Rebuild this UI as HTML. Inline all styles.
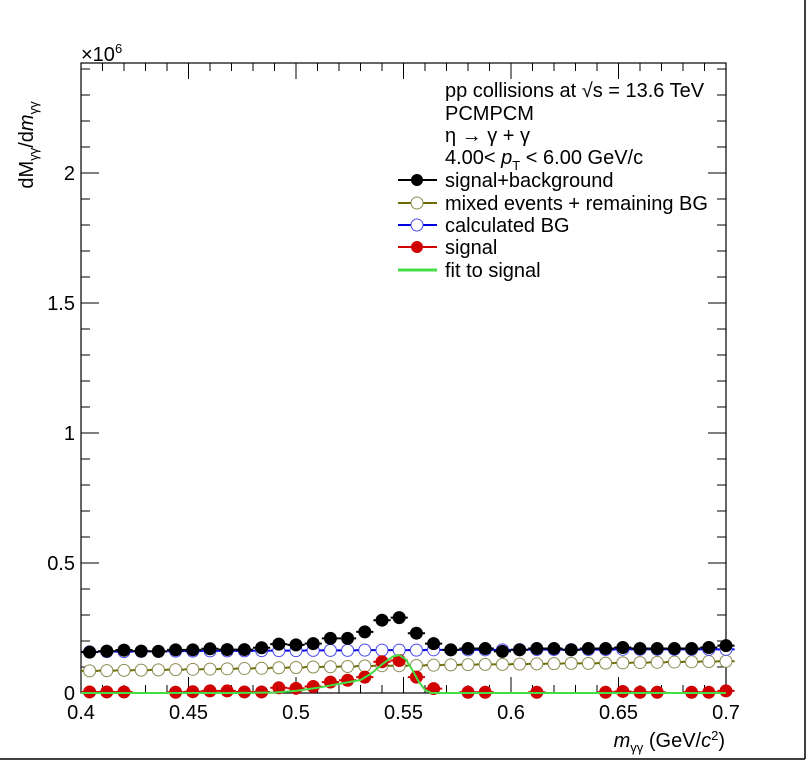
<!DOCTYPE html>
<html><head><meta charset="utf-8"><style>
html,body{margin:0;padding:0;background:#fff;}
svg{display:block;font-family:"Liberation Sans",sans-serif;}
</style></head><body>
<svg id="chart" width="808" height="761" viewBox="0 0 808 761" xmlns="http://www.w3.org/2000/svg">
<rect x="0" y="0" width="808" height="761" fill="#fff"/>
<line x1="805" y1="0" x2="805" y2="759" stroke="#000" stroke-width="1.5"/>
<line x1="0" y1="759" x2="805" y2="759" stroke="#000" stroke-width="1.5"/>
<g id="axes"></g>
<g id="series"></g>
<text x="81" y="61" font-size="20">×10<tspan dy="-8" font-size="13">6</tspan></text>
<text transform="translate(33,145) rotate(-90)" font-size="20" text-anchor="middle">dM<tspan font-size="13" dy="5">γγ</tspan><tspan dy="-5">/d</tspan><tspan font-style="italic">m</tspan><tspan font-size="13" dy="5">γγ</tspan></text>
<text x="725" y="747" font-size="20" text-anchor="end"><tspan font-style="italic">m</tspan><tspan font-size="13" dy="5">γγ</tspan><tspan dy="-5"> (GeV/</tspan><tspan font-style="italic">c</tspan><tspan font-size="13" dy="-7">2</tspan><tspan dy="7">)</tspan></text>
<g id="legend" font-size="20">
<text x="445" y="97">pp collisions at √s = 13.6 TeV</text>
<text x="445" y="120">PCMPCM</text>
<text x="445" y="142">η → γ + γ</text>
<text x="445" y="164">4.00&lt; <tspan font-style="italic">p</tspan><tspan font-size="13" dy="6">T</tspan><tspan dy="-6"> &lt; 6.00 GeV/c</tspan></text>
<g><line x1="398" y1="180" x2="437" y2="180" stroke="#000" stroke-width="2"/><circle cx="417" cy="180" r="6" fill="#000"/><text x="445" y="187">signal+background</text></g>
<g><line x1="398" y1="203" x2="437" y2="203" stroke="#6b6a00" stroke-width="2"/><circle cx="417" cy="203" r="6" fill="#fff" stroke="#8a8a50"/><text x="445" y="210">mixed events + remaining BG</text></g>
<g><line x1="398" y1="225" x2="437" y2="225" stroke="#0000e0" stroke-width="2"/><circle cx="417" cy="225" r="6" fill="#fff" stroke="#4a4af0"/><text x="445" y="232">calculated BG</text></g>
<g><line x1="398" y1="247" x2="437" y2="247" stroke="#d00000" stroke-width="2"/><circle cx="417" cy="247" r="6" fill="#d00000"/><text x="445" y="254">signal</text></g>
<g><line x1="398" y1="270" x2="437" y2="270" stroke="#44dd44" stroke-width="3"/><text x="445" y="277">fit to signal</text></g>
</g>
</svg>
<script>
const binCenters = [0.404,0.412,0.42,0.428,0.436,0.444,0.452,0.46,0.468,0.476,0.484,0.492,0.5,0.508,0.516,0.524,0.532,0.54,0.548,0.556,0.564,0.572,0.58,0.588,0.596,0.604,0.612,0.62,0.628,0.636,0.644,0.652,0.66,0.668,0.676,0.684,0.692,0.7];
const sigBg = [0.157,0.161,0.165,0.161,0.16,0.166,0.166,0.17,0.167,0.167,0.174,0.188,0.185,0.19,0.21,0.21,0.235,0.28,0.29,0.23,0.19,0.166,0.171,0.171,0.16,0.166,0.171,0.171,0.166,0.171,0.171,0.175,0.171,0.171,0.171,0.171,0.175,0.182];
const mixedBg = [0.085,0.086,0.087,0.088,0.089,0.09,0.091,0.092,0.093,0.094,0.095,0.097,0.098,0.1,0.101,0.102,0.104,0.105,0.105,0.106,0.107,0.108,0.109,0.11,0.11,0.111,0.112,0.113,0.114,0.114,0.115,0.116,0.117,0.118,0.119,0.12,0.121,0.122];
const calcBg = [0.158,0.159,0.159,0.16,0.16,0.161,0.161,0.162,0.162,0.162,0.163,0.163,0.163,0.164,0.164,0.164,0.165,0.165,0.165,0.165,0.166,0.166,0.166,0.166,0.166,0.167,0.167,0.167,0.167,0.167,0.167,0.168,0.168,0.168,0.168,0.168,0.168,0.168];
const signal = [0.004,0.004,0.004,null,null,0.003,0.005,0.008,0.008,0.004,0.004,0.02,0.018,0.025,0.042,0.049,0.061,0.12,0.125,0.061,0.017,null,0.003,0.003,null,null,0.003,null,null,null,0.003,0.006,0.003,0.003,null,0.003,0.003,0.008];
const fitX = [0.47,0.49,0.5,0.51,0.52,0.53,0.535,0.54,0.545,0.548,0.551,0.554,0.557,0.56,0.563];
const fitY = [0,0.002,0.008,0.02,0.035,0.05,0.075,0.11,0.14,0.146,0.13,0.09,0.045,0.012,0];
const xTicks = [0.4,0.45,0.5,0.55,0.6,0.65,0.7];
const xTickLabels = ["0.4","0.45","0.5","0.55","0.6","0.65","0.7"];
const yTicks = [0,0.5,1,1.5,2];
const yTickLabels = ["0","0.5","1","1.5","2"];

const L=81,R=726,T=63,B=693,XMIN=0.4,XMAX=0.7,YMIN=0,YMAX=(B-T)/260;
const sx=v=>L+(v-XMIN)/(XMAX-XMIN)*(R-L);
const sy=v=>B-(v-YMIN)/(YMAX-YMIN)*(B-T);
const NS="http://www.w3.org/2000/svg";
function mk(tag,parent,attrs){const e=document.createElementNS(NS,tag);for(const k in attrs)e.setAttribute(k,attrs[k]);parent.appendChild(e);return e;}
const axes=document.getElementById('axes'), ser=document.getElementById('series');
const frame=mk('rect',axes,{x:L,y:T,width:R-L,height:B-T,fill:'none',stroke:'#000','stroke-width':1.2});


for(let i=0;i<=30;i++){const v=XMIN+i*0.01,x=sx(v),big=i%5===0,len=big?16:8;
 const t=mk('line',axes,{x1:x,y1:B,x2:x,y2:B-len,stroke:'#000','stroke-width':1});
 
 
 const t2=mk('line',axes,{x1:x,y1:T,x2:x,y2:T+len,stroke:'#000','stroke-width':1});
 
 }
for(let i=0;i*0.1<=YMAX;i++){const v=i*0.1,y=sy(v),big=i%5===0,len=big?18:9;
 const t=mk('line',axes,{x1:L,y1:y,x2:L+len,y2:y,stroke:'#000','stroke-width':1});
 
 
 const t2=mk('line',axes,{x1:R,y1:y,x2:R-len,y2:y,stroke:'#000','stroke-width':1});
 
 }
xTicks.forEach((v,i)=>{const t=mk('text',axes,{x:sx(v),y:B+26,'font-size':20,'text-anchor':'middle'});t.textContent=xTickLabels[i];
 
 });
yTicks.forEach((v,i)=>{const t=mk('text',axes,{x:L-6,y:sy(v)+7,'font-size':20,'text-anchor':'end'});t.textContent=yTickLabels[i];
 
 });
const hw=(XMAX-XMIN)/37.5/2;
function drawSeries(vals,line,fill,stroke,name){
 const g=mk('g',ser,{});
 
 
 vals.forEach((v,i)=>{if(v===null)return;const x=binCenters[i],y=sy(v);
  const l=mk('line',g,{x1:sx(x-hw),y1:y,x2:sx(x+hw),y2:y,stroke:line,'stroke-width':2});
  
  
  const c=mk('circle',g,{cx:sx(x),cy:y,r:6,fill:fill,stroke:stroke,'stroke-width':1});
  
  });
}
drawSeries(mixedBg,'#6b6a00','#fff','#8a8a50','mixed-events-series');
drawSeries(calcBg,'#0000e0','#fff','#4a4af0','calculated-bg-series');
drawSeries(sigBg,'#000','#000','#000','signal-background-series');
drawSeries(signal,'#d00000','#d00000','#d00000','signal-series');
let d='M'+sx(XMIN)+','+sy(0);
fitX.forEach((x,i)=>{d+=' L'+sx(x)+','+sy(fitY[i]);});
d+=' L'+sx(XMAX)+','+sy(0);
const fp=mk('path',ser,{d:d,fill:'none',stroke:'#44dd44','stroke-width':2});


</script>
</body></html>
